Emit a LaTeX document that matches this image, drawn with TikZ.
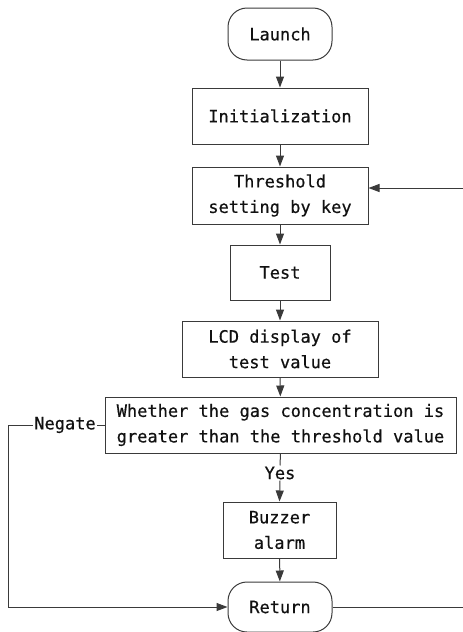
\documentclass[tikz,border=0pt]{standalone}
\usepackage{fontspec}
\newfontfamily\flowfont[FakeBold=0.5]{DejaVu Sans Mono}
\usetikzlibrary{arrows.meta}
\definecolor{ln}{HTML}{3A3A3A}
\definecolor{tx}{HTML}{111111}
\begin{document}
\begin{tikzpicture}[x=1pt,y=-1pt,
  every node/.style={font=\flowfont\fontsize{17}{25.5}\selectfont, text=tx, align=center},
  box/.style={draw=ln, line width=1pt, inner sep=0pt},
  term/.style={box, rounded corners=19pt},
  flow/.style={draw=ln, line width=1pt, -{Triangle[length=11pt,width=8pt]}},
  plain/.style={draw=ln, line width=1pt}]
\useasboundingbox (0,0) rectangle (463,632);
\node[term, minimum width=104pt, minimum height=52pt] (launch) at (280,34) {Launch};
\node[box, minimum width=176pt, minimum height=56pt] (init) at (280,116) {Initialization};
\node[box, minimum width=176pt, minimum height=57pt] (thr) at (280,195.5) {Threshold\\setting by key};
\node[box, minimum width=100pt, minimum height=55pt] (test) at (280,272.5) {Test};
\node[box, minimum width=196pt, minimum height=56pt] (lcd) at (280,349) {LCD display of\\test value};
\node[box, minimum width=351pt, minimum height=56pt] (cmp) at (280.5,425) {Whether the gas concentration is\\greater than the threshold value};
\node[inner sep=1pt] (yes) at (280,473) {Yes};
\node[box, minimum width=113pt, minimum height=56pt] (buzz) at (279.5,530) {Buzzer\\alarm};
\node[term, minimum width=104pt, minimum height=50pt] (ret) at (280,607) {Return};
\node[inner sep=1pt] (neg) at (65,425) {Negate};
\coordinate (inR) at (463,188);
\coordinate (outR) at (463,607);
\coordinate (cL) at (8,425);
\coordinate (rL) at (8,607);
\draw[flow] (launch) -- (init);
\draw[flow] (init) -- (thr);
\draw[flow] (thr) -- (test);
\draw[flow] (test) -- (lcd);
\draw[flow] (lcd) -- (cmp);
\draw[plain] (cmp.south) -- (yes.north);
\draw[flow] (yes.south) -- (buzz.north);
\draw[flow] (buzz) -- (ret);
\draw[plain] (cmp.west) -- (neg.east);
\draw[flow] (neg.west) -- (cL) -- (rL) -- (ret.west);
\draw[flow] (inR) -- (inR -| thr.east);
\draw[plain] (ret.east) -- (outR);
\end{tikzpicture}
\end{document}
